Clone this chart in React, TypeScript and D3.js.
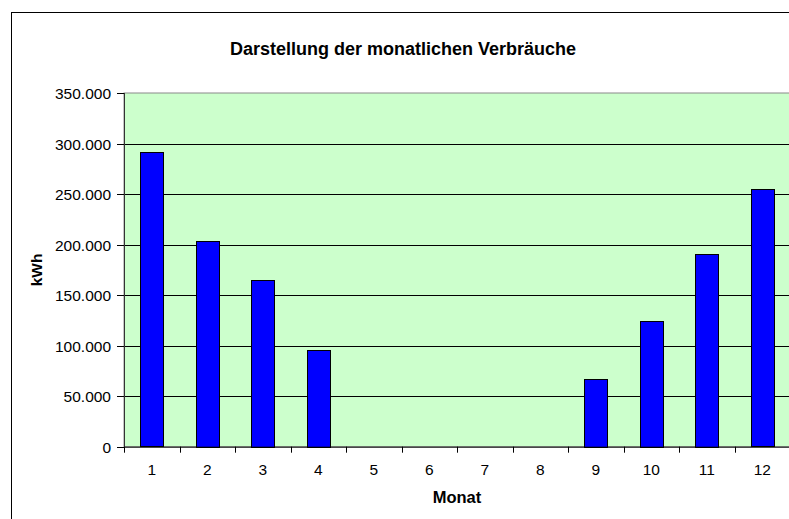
import React from "react";
import * as d3 from "d3";

// monthly consumption, kWh
const months = ["1", "2", "3", "4", "5", "6", "7", "8", "9", "10", "11", "12"];
const consumption = [291200, 203900, 164800, 95700, 0, 0, 0, 0, 67100, 124400, 190500, 254700];
const yTicks = [0, 50000, 100000, 150000, 200000, 250000, 300000, 350000];

const W = 789;
const H = 519;
const margin = { left: 124, top: 93, right: -1, bottom: 72 };

const fmt = (v: number) => (v === 0 ? "0" : d3.format(",")(v).replace(/,/g, "."));

export default function App() {
  const plotW = W - margin.left - margin.right;
  const plotH = H - margin.top - margin.bottom - 0.3;

  const x = d3.scaleBand<string>().domain(months).range([0, plotW]).paddingInner(0).paddingOuter(0);
  const y = d3.scaleLinear().domain([0, 350000]).range([plotH, 0]);
  const barW = x.bandwidth() / 2.4;
  const font = "'Liberation Sans', Arial, sans-serif";

  return (
    <div style={{ position: "absolute", left: 0, top: 0 }}>
      <svg width={W} height={H} style={{ display: "block", background: "#fff" }} fontFamily={font}>
        {/* chart area frame */}
        <rect x={11.5} y={12.5} width={W + 20} height={H + 20} fill="none" stroke="#000" />

        <text x={403} y={55} textAnchor="middle" fontSize={18} fontWeight="bold" fill="#000">
          Darstellung der monatlichen Verbräuche
        </text>

        <g transform={`translate(${margin.left},${margin.top})`}>
          <rect x={0} y={0} width={plotW} height={plotH} fill="#ccffcc" stroke="#8a8a8a" />
          {yTicks.slice(1, -1).map(t => (
            <line key={t} x1={0} x2={plotW} y1={Math.round(y(t)) + 0.5} y2={Math.round(y(t)) + 0.5} stroke="#000" />
          ))}

          {consumption.map((v, i) =>
            v > 0 ? (
              <rect
                key={i}
                x={Math.round(x(months[i])! + (x.bandwidth() - barW) / 2) + 0.5}
                y={Math.round(y(v)) + 0.5}
                width={Math.round(barW)}
                height={Math.round(plotH - y(v))}
                fill="#0000ff"
                stroke="#000"
              />
            ) : null
          )}

          {/* y axis */}
          <line x1={0.5} x2={0.5} y1={0} y2={plotH} stroke="#333" />
          {yTicks.map(t => (
            <g key={t} transform={`translate(0,${Math.round(y(t)) + 0.5})`}>
              <line x1={-7} x2={0} stroke="#000" />
              <text x={-13} y={5.5} textAnchor="end" fontSize={15.5} fill="#000">
                {fmt(t)}
              </text>
            </g>
          ))}

          {/* x axis */}
          <line x1={0} x2={plotW} y1={plotH + 0.5} y2={plotH + 0.5} stroke="#000" />
          {months.map(m => (
            <line
              key={"t" + m}
              x1={Math.round(x(m)!) + 0.5}
              x2={Math.round(x(m)!) + 0.5}
              y1={plotH}
              y2={plotH + 6}
              stroke="#000"
            />
          ))}
          {months.map(m => (
            <text key={m} x={x(m)! + x.bandwidth() / 2} y={plotH + 28} textAnchor="middle" fontSize={15.5} fill="#000">
              {m}
            </text>
          ))}
        </g>

        <text x={457} y={503} textAnchor="middle" fontSize={16.5} fontWeight="bold" fill="#000">
          Monat
        </text>
        <text
          transform={`translate(42,${margin.top + (H - margin.top - margin.bottom) / 2}) rotate(-90)`}
          textAnchor="middle"
          fontSize={15.5}
          fontWeight="bold"
          fill="#000"
        >
          kWh
        </text>
      </svg>
    </div>
  );
}
